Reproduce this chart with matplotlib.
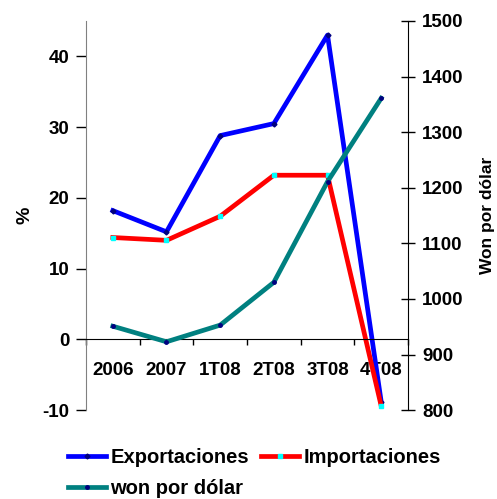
import matplotlib.pyplot as plt
import numpy as np

plt.rcParams['font.family'] = ['Liberation Sans', 'DejaVu Sans']
plt.rcParams['font.weight'] = 'bold'
plt.rcParams['axes.unicode_minus'] = False

# Dados
categorias = ['2006', '2007', '1T08', '2T08', '3T08', '4T08']
exportaciones = [18.2, 15.2, 28.8, 30.5, 43.0, -8.8]
importaciones = [14.4, 14.0, 17.4, 23.2, 23.2, -9.4]
won_dolar = [951, 923, 953, 1030, 1211, 1361]

x = np.arange(len(categorias)) + 0.5

fig = plt.figure(figsize=(4.97, 4.99), dpi=100)
ax = fig.add_axes([0.173, 0.178, 0.648, 0.780])
ax2 = ax.twinx()

l1, = ax.plot(x, exportaciones, color='#0000FF', lw=3.4, marker='D', ms=2.5,
              mfc='#000080', mec='#000080', label='Exportaciones')
l2, = ax.plot(x, importaciones, color='#FF0000', lw=3.4, marker='s', ms=2.5,
              mfc='#00FFFF', mec='#00FFFF', label='Importaciones')
l3, = ax2.plot(x, won_dolar, color='#008080', lw=3.4, marker='o', ms=2.5,
               mfc='#000080', mec='#000080', label='won por dólar')

# eixo esquerdo
ax.set_xlim(0, 6)
ax.set_ylim(-10, 45)
ax.set_yticks([-10, 0, 10, 20, 30, 40])
ax.spines['top'].set_visible(False)
ax.spines['right'].set_visible(False)
ax.spines['left'].set_color('#808080')
ax.spines['bottom'].set_position(('data', 0))
ax.set_xticks(range(7))
ax.set_xticklabels([])
ax.set_xticks(x, minor=True)
ax.set_xticklabels(categorias, minor=True)
ax.tick_params(axis='x', which='major', direction='out', length=4, width=1)
ax.tick_params(axis='x', which='minor', length=0, pad=16, labelsize=13.5)
ax.tick_params(axis='y', direction='out', length=7, width=1, pad=5, labelsize=13.5)
ax.set_ylabel('%', fontsize=14, fontweight='bold', labelpad=6)

# eixo direito
ax2.set_ylim(800, 1500)
ax2.set_yticks(range(800, 1501, 100))
ax2.spines['top'].set_visible(False)
ax2.spines['left'].set_visible(False)
ax2.spines['bottom'].set_visible(False)
ax2.tick_params(axis='y', direction='inout', length=10, width=1, pad=5, labelsize=13.5)
ax2.set_ylabel('Won por dólar', fontsize=12.5, fontweight='bold', labelpad=12)

# legenda
fig.legend([l1, l3, l2], ['Exportaciones', 'won por dólar', 'Importaciones'],
           ncol=2, loc='upper left', bbox_to_anchor=(0.137, 0.103),
           frameon=False, fontsize=14.5, handlelength=1.9, handletextpad=0.2,
           columnspacing=0.6, labelspacing=0.6, borderpad=0, borderaxespad=0)

fig.savefig('out.png', dpi=100)
